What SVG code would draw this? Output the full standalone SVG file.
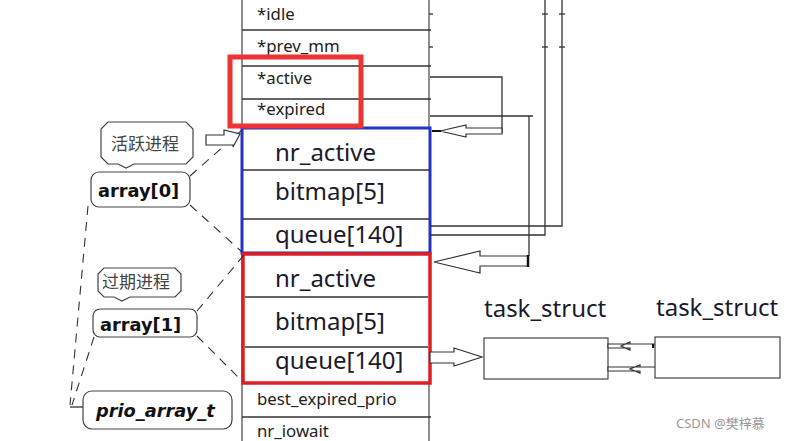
<svg xmlns="http://www.w3.org/2000/svg" width="791" height="441" viewBox="0 0 791 441">
<style>
.ln{fill:none;stroke:#333;stroke-width:1.3}
.cell{fill:#fff;stroke:#444;stroke-width:1.2}
.sm{font-family:"Noto Sans","Open Sans",sans-serif;font-size:16.8px;fill:#222}
.lg{font-family:"Noto Sans","Open Sans",sans-serif;font-size:24px;fill:#1a1a2a}
.cn{font-family:"Noto Sans CJK SC",sans-serif;font-size:17px;fill:#444}
.bd{font-family:"DejaVu Sans",sans-serif;font-weight:bold;font-size:17.8px;fill:#111}
.dash{fill:none;stroke:#333;stroke-width:1.1;stroke-dasharray:9 7}
.bub{fill:#fff;stroke:#444;stroke-width:1.2}
.harrow{fill:#fff;stroke:#333;stroke-width:1.2}
</style>
<rect width="791" height="441" fill="#fff"/>

<g id="table">
  <rect class="cell" x="242" y="-2" width="187" height="445"/>
  <line class="ln" x1="242" y1="30" x2="431" y2="30"/>
  <line class="ln" x1="242" y1="66" x2="431" y2="66"/>
  <line class="ln" x1="242" y1="99" x2="431" y2="99"/>
  <line class="ln" x1="242" y1="417" x2="431" y2="417"/>
  <line class="ln" x1="429" y1="14" x2="433" y2="14"/>
  <line class="ln" x1="429" y1="47" x2="433" y2="47"/>
  <text class="sm" x="257" y="20">*idle</text>
  <text class="sm" x="257" y="52">*prev_mm</text>
  <text class="sm" x="257" y="84">*active</text>
  <text class="sm" x="257" y="115">*expired</text>
  <text class="sm" x="257" y="405">best_expired_prio</text>
  <text class="sm" x="257" y="437">nr_iowait</text>
</g>

<g id="active-array">
  <rect x="242" y="128" width="188" height="125" fill="#fff" stroke="#2233cc" stroke-width="3"/>
  <line class="ln" x1="243" y1="170" x2="429" y2="170"/>
  <line class="ln" x1="243" y1="219" x2="429" y2="219"/>
  <text class="lg" x="275" y="161">nr_active</text>
  <text class="lg" x="275" y="200">bitmap[5]</text>
  <text class="lg" x="275" y="243">queue[140]</text>
</g>

<g id="expired-array">
  <rect x="243" y="254" width="187" height="129" fill="#fff" stroke="#e01c24" stroke-width="3.5"/>
  <line class="ln" x1="245" y1="297" x2="428" y2="297"/>
  <line class="ln" x1="245" y1="347" x2="428" y2="347"/>
  <text class="lg" x="275" y="287">nr_active</text>
  <text class="lg" x="275" y="330">bitmap[5]</text>
  <text class="lg" x="275" y="369">queue[140]</text>
</g>

<g id="highlight">
  <rect x="230" y="57" width="131" height="69" fill="none" stroke="#ee3333" stroke-width="5"/>
</g>

<g id="label-active">
  <path class="bub" d="M108,122 H186 L193,129 V157 L186,164 H134 L126,168 L118,164 H108 L101,157 V129 Z"/>
  <text class="cn" x="111" y="150">活跃进程</text>
</g>
<g id="array0">
  <rect class="bub" x="91" y="172" width="99" height="35" rx="8"/>
  <text class="bd" x="98" y="197">array[0]</text>
</g>
<g id="label-expired">
  <path class="bub" d="M104,268 H175 L181,274 V291 L175,297 H130 L122,301 L114,297 H104 L98,291 V274 Z"/>
  <text class="cn" x="102" y="288">过期进程</text>
</g>
<g id="array1">
  <rect class="bub" x="93" y="309" width="104" height="28" rx="7"/>
  <text class="bd" x="100" y="331">array[1]</text>
</g>
<g id="prio">
  <rect class="bub" x="83" y="391" width="149" height="38" rx="9"/>
  <text class="bd" x="96" y="417" font-style="italic" font-size="18.8">prio_array_t</text>
</g>

<g id="task1">
  <text class="lg" x="484" y="317" font-size="23.5">task_struct</text>
  <rect class="cell" x="484" y="338" width="124" height="41"/>
</g>
<g id="task2">
  <text class="lg" x="656" y="316" font-size="23.5">task_struct</text>
  <rect class="cell" x="655" y="337" width="125" height="41"/>
</g>

<g id="connectors">
  <line class="dash" x1="190" y1="176" x2="242" y2="130"/>
  <line class="dash" x1="190" y1="205" x2="242" y2="252"/>
  <line class="dash" x1="197" y1="311" x2="244" y2="255"/>
  <line class="dash" x1="197" y1="336" x2="243" y2="382"/>
  <line class="dash" x1="88" y1="206" x2="70" y2="405"/>
  <line class="dash" x1="94" y1="337" x2="72" y2="405"/>
  <line class="ln" x1="70" y1="407" x2="83" y2="407"/>
  <path class="harrow" d="M206,135 H224 V130 L240,134 L233,147 V145 H206 Z"/>
  <polyline class="ln" points="430,77 502,77 502,133"/>
  <path class="harrow" d="M502,128 H466 V125 L440,131 L466,137 V134 H502 Z"/>
  <line x1="432" y1="131" x2="441" y2="131" stroke="#111" stroke-width="2"/>
  <polyline class="ln" points="430,116 533,116"/>
  <line class="ln" x1="529" y1="116" x2="529" y2="256"/>
  <path class="harrow" d="M528,256 H480 V251 L434,262 L480,273 V266 H528 Z"/>
  <line x1="528" y1="255" x2="528" y2="267" stroke="#111" stroke-width="2.5"/>
  <polyline class="ln" points="545,0 545,235 430,235"/>
  <polyline class="ln" points="562,0 562,226 430,226"/>
  <line class="ln" x1="542" y1="14" x2="548" y2="14"/>
  <line class="ln" x1="542" y1="47" x2="548" y2="47"/>
  <line class="ln" x1="559" y1="14" x2="565" y2="14"/>
  <line class="ln" x1="559" y1="47" x2="565" y2="47"/>
  <path class="harrow" d="M430,352 H454 V348 L482,357 L454,366 V363 H430 Z"/>
  <path class="harrow" d="M655,344 H630 V342 L621,346 L630,350 V348 H608 V344 Z"/>
  <path class="harrow" d="M655,367 H640 V365 L630,369 L640,373 V371 H608 V367 Z"/>
  <line x1="653" y1="344" x2="653" y2="348" stroke="#111" stroke-width="2"/>
</g>

<text x="676" y="428" font-family="Noto Sans, Noto Sans CJK SC, sans-serif" font-size="13" fill="#999">CSDN @樊梓慕</text>
</svg>
